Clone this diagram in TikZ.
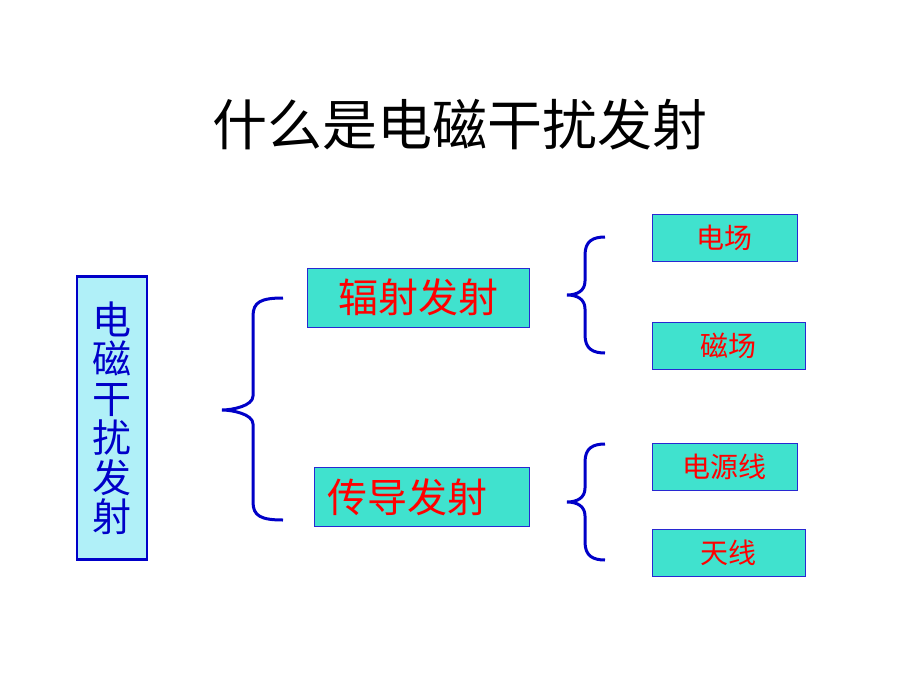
\documentclass[tikz,border=0pt]{standalone}
\usepackage{fontspec}
\setmainfont{Noto Sans CJK SC}
\usepackage{xcolor}
\usetikzlibrary{positioning}

\definecolor{boxfill}{RGB}{64,226,206}
\definecolor{rootfill}{RGB}{176,240,248}
\definecolor{rimblue}{RGB}{40,40,210}
\definecolor{bracecol}{RGB}{0,0,200}

\tikzset{
  root/.style={draw=bracecol, line width=2.5pt, fill=rootfill, text=bracecol, minimum width=70pt, minimum height=283pt, inner sep=0pt, align=center, font=\fontsize{39}{39.5}\selectfont},
  branch/.style={draw=rimblue, line width=0.8pt, fill=boxfill, text=red, minimum height=59pt, inner sep=0pt, font=\fontsize{40}{42}\selectfont},
  leaf/.style={draw=rimblue, line width=0.8pt, fill=boxfill, text=red, minimum height=47pt, inner sep=0pt, font=\fontsize{28}{30}\selectfont},
  brace/.style={draw=bracecol, line width=3pt}
}

\begin{document}
\begin{tikzpicture}[x=1pt,y=-1pt]
\useasboundingbox (0,0) rectangle (920,690);

\node(title) at (460,125){\fontsize{55}{57}\selectfont 什么是电磁干扰发射};

\node(emi)[root] at (112,418){电\\磁\\干\\扰\\发\\射};

\node(rad)[branch, minimum width=222pt] at (418,297.5){辐射发射};
\node(cond)[branch, minimum width=215pt] at (421.5,497){\hspace*{-28pt}传导发射};

\node(efield)[leaf, minimum width=145pt] at (724.5,238){电场};
\node(mfield)[leaf, minimum width=153pt] at (728.5,345.5){磁场};
\node(pwr)[leaf, minimum width=145pt] at (724.5,467){电源线};
\node(ant)[leaf, minimum width=153pt] at (728.5,552.5){天线};

% braces: tip x, stem x, end x, top y, middle y, bottom y
\foreach \tip/\stem/\tail/\top/\mid/\bot in {222/253/283/298/410/520, 567/585/605/237/295/353, 567/585/605/444/502/560}
  \draw[brace] (\tail,\top) .. controls (\stem+8,\top) and (\stem,\top+4) .. (\stem,\top+18)
    -- (\stem,\mid-14) .. controls (\stem,\mid-4) and (\tip+10,\mid) .. (\tip,\mid)
    .. controls (\tip+10,\mid) and (\stem,\mid+4) .. (\stem,\mid+14)
    -- (\stem,\bot-18) .. controls (\stem,\bot-4) and (\stem+8,\bot) .. (\tail,\bot);

\end{tikzpicture}
\end{document}
